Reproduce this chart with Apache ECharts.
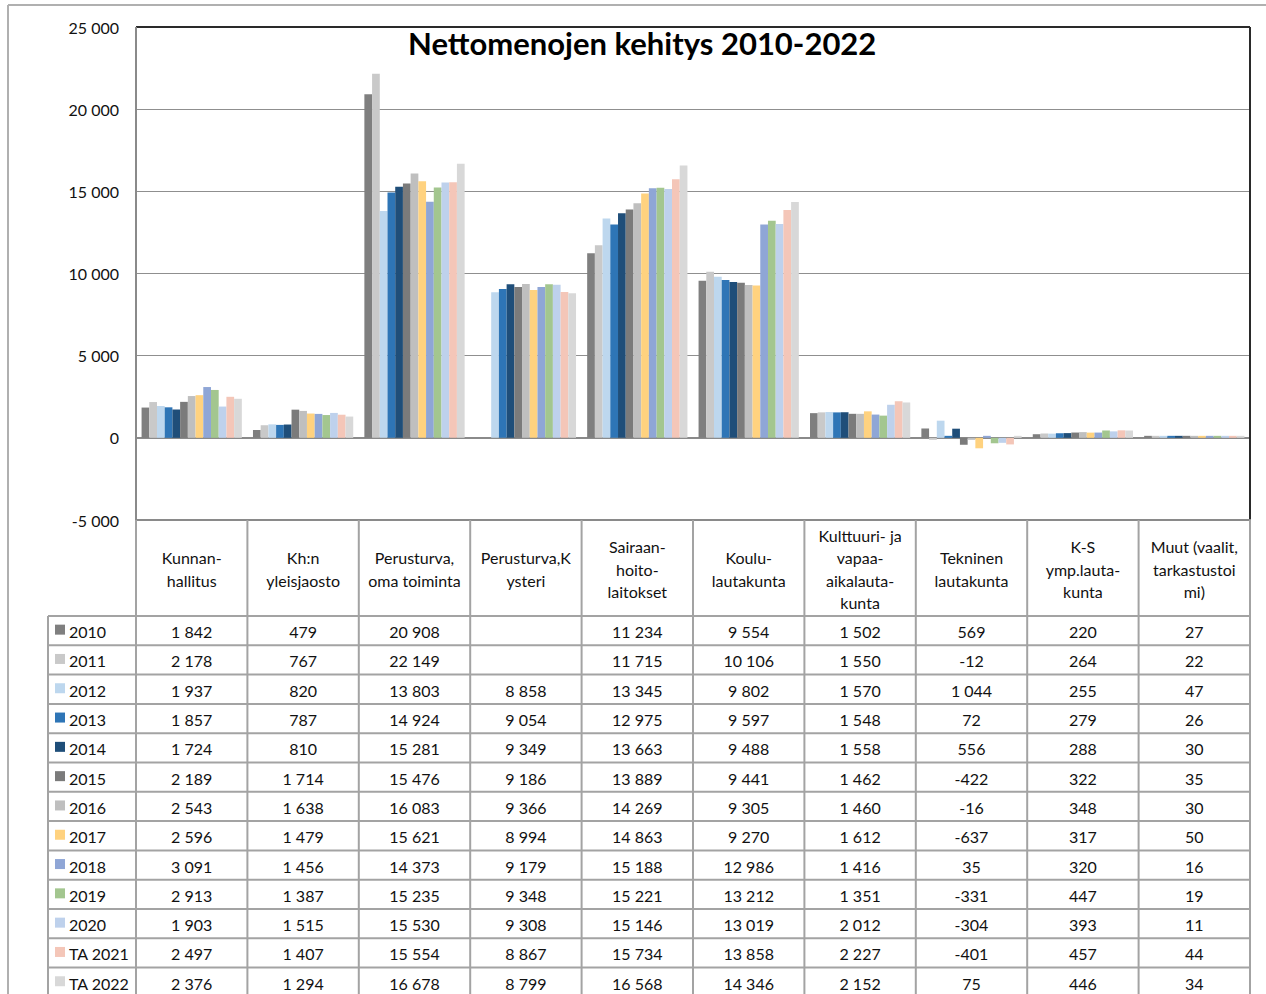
<!DOCTYPE html>
<html>
<head>
<meta charset="utf-8">
<script src="https://cdn.jsdelivr.net/npm/echarts@6/dist/echarts.min.js"></script>
<style>
  html, body { margin: 0; padding: 0; background: #fff; }
  #chart { width: 1266px; height: 994px; }
</style>
</head>
<body>
<div id="chart"></div>
<script>
// tehtäväalueet (sarakkeet)
var categories = [
  'Kunnan-\nhallitus', 'Kh:n\nyleisjaosto', 'Perusturva,\noma toiminta', 'Perusturva,K\nysteri',
  'Sairaan-\nhoito-\nlaitokset', 'Koulu-\nlautakunta', 'Kulttuuri- ja\nvapaa-\naikalauta-\nkunta',
  'Tekninen\nlautakunta', 'K-S\nymp.lauta-\nkunta', 'Muut (vaalit,\ntarkastustoi\nmi)'
];
var years = ['2010', '2011', '2012', '2013', '2014', '2015', '2016', '2017', '2018', '2019', '2020', 'TA 2021', 'TA 2022'];
var colors = ['#7f7f7f', '#c9c9c9', '#bdd7ee', '#2e75b6', '#1f4e79', '#7b7b7b', '#bfbfbf', '#ffd27f',
  '#8fa6d6', '#a3c68f', '#bed1ec', '#f4c6b8', '#d8d8d8'];
var yTicks = [-5000, 0, 5000, 10000, 15000, 20000, 25000];

// nettomenot vuosittain, samassa järjestyksessä kuin categories
var v2010 = [1842, 479, 20908, null, 11234, 9554, 1502, 569, 220, 27];
var v2011 = [2178, 767, 22149, null, 11715, 10106, 1550, -12, 264, 22];
var v2012 = [1937, 820, 13803, 8858, 13345, 9802, 1570, 1044, 255, 47];
var v2013 = [1857, 787, 14924, 9054, 12975, 9597, 1548, 72, 279, 26];
var v2014 = [1724, 810, 15281, 9349, 13663, 9488, 1558, 556, 288, 30];
var v2015 = [2189, 1714, 15476, 9186, 13889, 9441, 1462, -422, 322, 35];
var v2016 = [2543, 1638, 16083, 9366, 14269, 9305, 1460, -16, 348, 30];
var v2017 = [2596, 1479, 15621, 8994, 14863, 9270, 1612, -637, 317, 50];
var v2018 = [3091, 1456, 14373, 9179, 15188, 12986, 1416, 35, 320, 16];
var v2019 = [2913, 1387, 15235, 9348, 15221, 13212, 1351, -331, 447, 19];
var v2020 = [1903, 1515, 15530, 9308, 15146, 13019, 2012, -304, 393, 11];
var vTA2021 = [2497, 1407, 15554, 8867, 15734, 13858, 2227, -401, 457, 44];
var vTA2022 = [2376, 1294, 16678, 8799, 16568, 14346, 2152, 75, 446, 34];
var values = [v2010, v2011, v2012, v2013, v2014, v2015, v2016, v2017, v2018, v2019, v2020, vTA2021, vTA2022];

var FONT = 'Lato';
var plotLeft = 136, plotRight = 1250, plotTop = 27, plotBottom = 520;
var headBottom = 616, rowH = 29.3, legendLeft = 48, pageH = 994;
var lineCol = '#a3a3a3';

function fmt(n) {
  if (n === null || n === undefined) return '';
  var s = String(Math.abs(n)).replace(/\B(?=(\d{3})+(?!\d))/g, ' ');
  return (n < 0 ? '-' : '') + s;
}

var chart = echarts.init(document.getElementById('chart'), null, { renderer: 'svg' });

var series = years.map(function (y, i) {
  return {
    name: y,
    type: 'bar',
    data: values[i],
    barGap: '0%',
    barCategoryGap: '10%',
    barMinHeight: 2,
    itemStyle: { color: colors[i] },
    animation: false
  };
});

// datataulukko piirretään graphic-elementeillä
var graphics = [];
var colW = (plotRight - plotLeft) / categories.length;

function hline(x1, x2, y, col, w) {
  graphics.push({ type: 'line', shape: { x1: x1, y1: y, x2: x2, y2: y }, style: { stroke: col, lineWidth: w }, z: 10 });
}
function vline(x, y1, y2, col, w) {
  graphics.push({ type: 'line', shape: { x1: x, y1: y1, x2: x, y2: y2 }, style: { stroke: col, lineWidth: w }, z: 10 });
}

// ulkokehys
hline(8, 1266, 5, '#b0b0b0', 2);
vline(8, 5, pageH, '#b0b0b0', 2);

// piirtoalueen reunat
hline(plotLeft, plotRight, plotTop, '#2a2a2a', 2);
vline(plotRight, plotTop, plotBottom, '#2a2a2a', 2);
vline(plotLeft, plotTop, plotBottom, '#8a8a8a', 2);
hline(plotLeft, plotRight + 1, plotBottom, '#8a8a8a', 2);

// taulukon viivat
for (var c = 0; c <= categories.length; c++) {
  vline(plotLeft + c * colW, plotBottom, pageH, lineCol, 2);
}
vline(legendLeft, headBottom, pageH, lineCol, 2);
for (var r = 0; r <= years.length; r++) {
  hline(legendLeft, plotRight, headBottom + r * rowH, lineCol, 2);
}

// otsikkorivi
categories.forEach(function (name, c) {
  graphics.push({
    type: 'text', z: 11,
    x: plotLeft + (c + 0.5) * colW, y: (plotBottom + headBottom) / 2 + 1,
    style: { text: name, align: 'center', verticalAlign: 'middle', font: '16px ' + FONT, lineHeight: 22.5, fill: '#111' }
  });
});

// arvorivit + selitteet
years.forEach(function (y, r) {
  var cy = headBottom + (r + 0.5) * rowH + 1;
  graphics.push({
    type: 'rect', z: 11,
    shape: { x: 55, y: cy - 7, width: 10, height: 10 },
    style: { fill: colors[r] }
  });
  graphics.push({
    type: 'text', z: 11, x: 69, y: cy,
    style: { text: y, align: 'left', verticalAlign: 'middle', font: '16px ' + FONT, fill: '#111' }
  });
  values[r].forEach(function (v, c) {
    graphics.push({
      type: 'text', z: 11, x: plotLeft + (c + 0.5) * colW, y: cy,
      style: { text: fmt(v), align: 'center', verticalAlign: 'middle', font: '16px ' + FONT, fill: '#111' }
    });
  });
});

var option = {
  backgroundColor: '#fff',
  animation: false,
  title: {
    text: 'Nettomenojen kehitys 2010-2022',
    left: 403,
    top: 22,
    textStyle: { fontFamily: FONT, fontWeight: 'bold', fontSize: 31, color: '#000' }
  },
  grid: { left: plotLeft, right: 1266 - plotRight, top: plotTop, bottom: pageH - plotBottom },
  xAxis: {
    type: 'category',
    data: categories,
    axisLine: { show: true, onZero: true, lineStyle: { color: '#8a8a8a', width: 2 } },
    axisTick: { show: false },
    axisLabel: { show: false }
  },
  yAxis: {
    type: 'value',
    min: yTicks[0],
    max: yTicks[yTicks.length - 1],
    interval: 5000,
    axisLine: { show: false },
    axisTick: { show: false },
    axisLabel: { fontFamily: FONT, fontSize: 16, color: '#111', margin: 17, formatter: fmt },
    splitLine: { lineStyle: { color: '#8f8f8f', width: 1 } }
  },
  series: series,
  graphic: graphics
};

chart.setOption(option);
</script>
</body>
</html>
